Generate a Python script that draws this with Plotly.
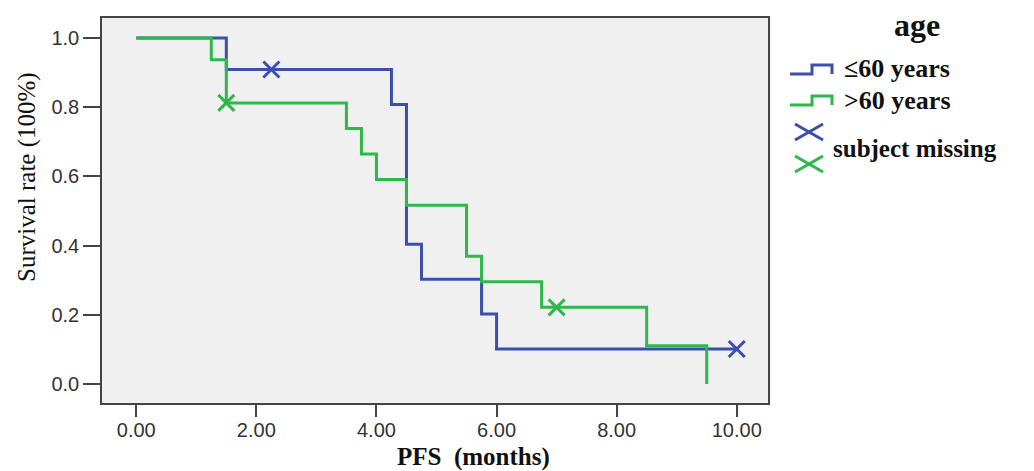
import plotly.graph_objects as go

# ---- data ----
young_t = [0.0, 1.5, 4.25, 4.5, 4.75, 5.75, 6.0, 10.0]
young_s = [1.0, 0.909, 0.808, 0.404, 0.303, 0.202, 0.101, 0.101]
young_cens_t = [2.25, 10.0]
young_cens_s = [0.909, 0.101]

old_t = [0.0, 1.25, 1.5, 3.5, 3.75, 4.0, 4.5, 5.5, 5.75, 6.75, 8.5, 9.5]
old_s = [1.0, 0.9375, 0.8125, 0.7386, 0.6648, 0.5909, 0.517, 0.3693, 0.2955, 0.2216, 0.1108, 0.0]
old_cens_t = [1.5, 7.0]
old_cens_s = [0.8125, 0.2216]

x_ticks = [0, 2, 4, 6, 8, 10]
y_ticks = [0.0, 0.2, 0.4, 0.6, 0.8, 1.0]

BLUE = "#3B4FAE"
GREEN = "#2DB84A"

W, H = 1034, 471
L, R, T, B = 102, 768, 18, 403


def px(xp):
    return (xp - L) / (R - L)


def py(yp):
    return (B - yp) / (B - T)


fig = go.Figure()
fig.add_trace(go.Scatter(x=young_t, y=young_s, mode="lines", line=dict(color=BLUE, width=3, shape="hv"),
                         showlegend=False, name="≤60 years"))
fig.add_trace(go.Scatter(x=old_t, y=old_s, mode="lines", line=dict(color=GREEN, width=3, shape="hv"),
                         showlegend=False, name=">60 years"))
fig.add_trace(go.Scatter(x=young_cens_t, y=young_cens_s, mode="markers",
                         marker=dict(symbol="x-thin-open", size=16, color=BLUE,
                                     line=dict(color=BLUE, width=3)),
                         showlegend=False))
fig.add_trace(go.Scatter(x=old_cens_t, y=old_cens_s, mode="markers",
                         marker=dict(symbol="x-thin-open", size=16, color=GREEN,
                                     line=dict(color=GREEN, width=3)),
                         showlegend=False))

axis_common = dict(showline=True, mirror=True, linecolor="#444", linewidth=1.5, showgrid=False,
                   zeroline=False, ticks="outside", tickcolor="#444", tickwidth=2,
                   tickfont=dict(family="Liberation Sans", size=20, color="#333"))
fig.update_xaxes(range=[-0.57, 10.52], tickvals=x_ticks, tickformat=".2f", ticklen=12,
                 ticklabelstandoff=-4, **axis_common)
fig.update_yaxes(range=[-0.055, 1.058], tickvals=y_ticks, tickformat=".1f", ticklen=17, **axis_common)

shapes = []
# legend step glyphs
for color, yb, yt in [(BLUE, 74, 65), (GREEN, 105, 96)]:
    pts = [(790, yb), (812, yb), (812, yt), (832, yt), (832, yb)]
    path = "M " + " L ".join(f"{px(a):.5f},{py(b):.5f}" for a, b in pts)
    shapes.append(dict(type="path", xref="paper", yref="paper", path=path,
                       line=dict(color=color, width=3)))
# legend censor crosses
for color, yc in [(BLUE, 132), (GREEN, 164)]:
    for y0, y1 in [(yc - 8, yc + 8), (yc + 8, yc - 8)]:
        shapes.append(dict(type="line", xref="paper", yref="paper",
                           x0=px(795), x1=px(823), y0=py(y0), y1=py(y1),
                           line=dict(color=color, width=3)))

annotations = [
    dict(text="<b>age</b>", x=px(917), y=py(25), xref="paper", yref="paper", showarrow=False,
         xanchor="center", yanchor="middle", font=dict(family="Liberation Serif", size=32, color="#111")),
    dict(text="<b>≤60 years</b>", x=px(842), y=py(68), xref="paper", yref="paper", showarrow=False,
         xanchor="left", yanchor="middle", font=dict(family="Liberation Serif", size=26, color="#111")),
    dict(text="<b>>60 years</b>", x=px(842), y=py(101), xref="paper", yref="paper", showarrow=False,
         xanchor="left", yanchor="middle", font=dict(family="Liberation Serif", size=26, color="#111")),
    dict(text="<b>subject missing</b>", x=px(831), y=py(148), xref="paper", yref="paper", showarrow=False,
         xanchor="left", yanchor="middle", font=dict(family="Liberation Serif", size=25, color="#111")),
    dict(text="Survival rate (100%)", x=px(27), y=py(177), xref="paper", yref="paper", showarrow=False,
         textangle=-90, xanchor="center", yanchor="middle",
         font=dict(family="Liberation Serif", size=25, color="#111")),
    dict(text="<b>PFS  (months)</b>", x=px(474), y=py(457), xref="paper", yref="paper", showarrow=False,
         xanchor="center", yanchor="middle", font=dict(family="Liberation Serif", size=25, color="#111")),
]

fig.update_layout(width=W, height=H, margin=dict(l=L, r=W - R, t=T, b=H - B, pad=0),
                  plot_bgcolor="#F0F0F0", paper_bgcolor="white",
                  shapes=shapes, annotations=annotations)

fig.write_html("out.html", config={"displayModeBar": False})

# remove the browser's default page margin so the figure sits at the window's top-left
with open("out.html", "r", encoding="utf-8") as f:
    html = f.read()
html = html.replace("<head>", "<head><style>html,body{margin:0;padding:0;overflow:hidden;}</style>", 1)
with open("out.html", "w", encoding="utf-8") as f:
    f.write(html)
